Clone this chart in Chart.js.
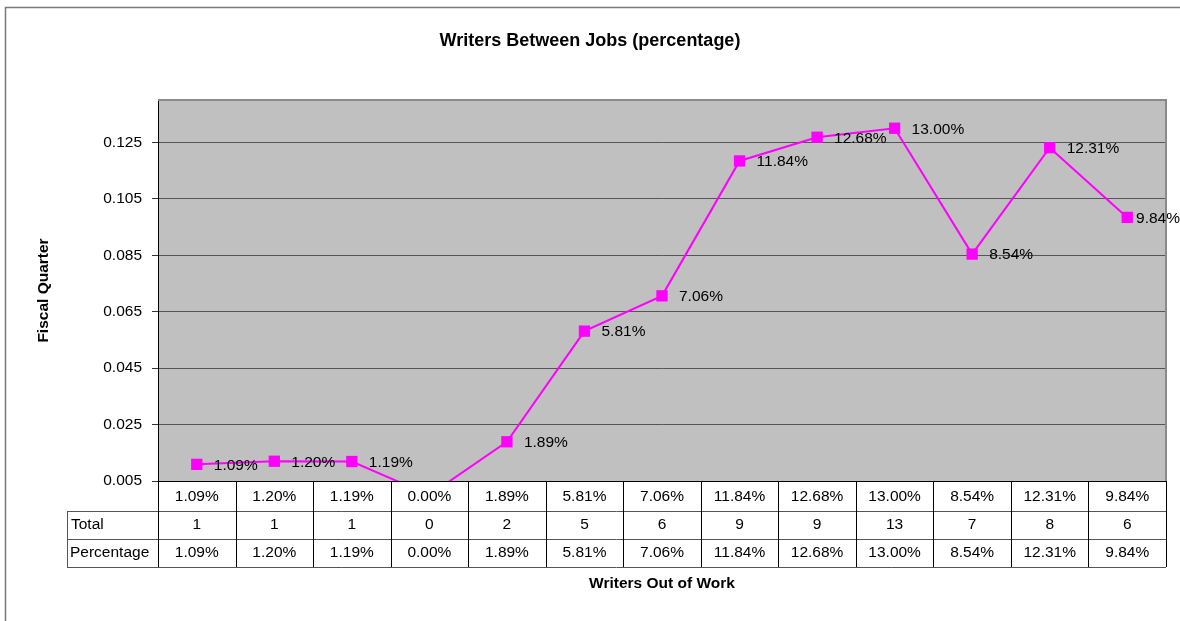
<!DOCTYPE html>
<html>
<head>
<meta charset="utf-8">
<script src="https://cdn.jsdelivr.net/npm/chart.js@4.4.1/dist/chart.umd.min.js"></script>
<style>
  html, body { margin: 0; padding: 0; background: #fff; }
  #wrap { width: 1180px; height: 621px; position: relative; }
</style>
</head>
<body>
<div id="wrap"><canvas id="chart"></canvas></div>
<script>
const FONT = '"Liberation Sans", Arial, sans-serif';

const categories = ['1.09%', '1.20%', '1.19%', '0.00%', '1.89%', '5.81%', '7.06%',
  '11.84%', '12.68%', '13.00%', '8.54%', '12.31%', '9.84%'];
const percentages = [0.0109, 0.0120, 0.0119, 0.0000, 0.0189, 0.0581, 0.0706,
  0.1184, 0.1268, 0.1300, 0.0854, 0.1231, 0.0984];
const totals = [1, 1, 1, 0, 2, 5, 6, 9, 9, 13, 7, 8, 6];
const yTicks = [0.005, 0.025, 0.045, 0.065, 0.085, 0.105, 0.125];
const yMin = 0.005;
const yMax = 0.14;

function pct(v) {
  return (v * 100).toFixed(2) + '%';
}

// grey frame round the whole chart (right/bottom run off the page)
const framePlugin = {
  id: 'frame',
  beforeDraw(chart) {
    const ctx = chart.ctx;
    ctx.save();
    ctx.fillStyle = '#fff';
    ctx.fillRect(0, 0, chart.width, chart.height);
    ctx.strokeStyle = '#7a7a7a';
    ctx.lineWidth = 1.5;
    ctx.strokeRect(5.5, 7.5, chart.width + 20, chart.height + 20);
    const a = chart.chartArea;
    ctx.fillStyle = '#c0c0c0';
    ctx.fillRect(a.left, a.top, a.right - a.left, a.bottom - a.top);
    ctx.restore();
  },
  afterDatasetsDraw(chart) {
    const ctx = chart.ctx;
    const a = chart.chartArea;
    ctx.save();
    ctx.strokeStyle = '#8a8a8a';
    ctx.lineWidth = 2;
    ctx.beginPath();
    ctx.moveTo(a.left, a.top);
    ctx.lineTo(a.right, a.top);
    ctx.lineTo(a.right, a.bottom);
    ctx.stroke();
    ctx.restore();
  }
};

// value labels to the right of each marker
const labelPlugin = {
  id: 'valueLabels',
  afterDatasetsDraw(chart) {
    const ctx = chart.ctx;
    const meta = chart.getDatasetMeta(0);
    ctx.save();
    ctx.font = '15.5px ' + FONT;
    ctx.fillStyle = '#000';
    ctx.textBaseline = 'middle';
    ctx.textAlign = 'left';
    meta.data.forEach((pt, i) => {
      const v = percentages[i];
      if (v < yMin || v > yMax) return;
      const txt = pct(v);
      const w = ctx.measureText(txt).width;
      let x = pt.x + 17;
      if (x + w > chart.width) x = chart.width - w;
      ctx.fillText(txt, x, pt.y + 1);
    });
    ctx.restore();
  }
};

// data table under the plot
const tablePlugin = {
  id: 'dataTable',
  afterDraw(chart) {
    const ctx = chart.ctx;
    const a = chart.chartArea;
    const xs = chart.scales.x;
    const colW = xs.getPixelForValue(1) - xs.getPixelForValue(0);
    const headLeft = 67;
    const r0 = a.bottom, r1 = a.bottom + 30, r2 = a.bottom + 58, r3 = a.bottom + 86;

    ctx.save();
    ctx.lineWidth = 1;
    ctx.strokeStyle = '#555';
    ctx.beginPath();
    [r1, r2, r3].forEach(y => {
      ctx.moveTo(headLeft, Math.round(y) + 0.5);
      ctx.lineTo(a.right, Math.round(y) + 0.5);
    });
    ctx.moveTo(headLeft + 0.5, r1);
    ctx.lineTo(headLeft + 0.5, r3);
    ctx.stroke();

    ctx.strokeStyle = '#000';
    ctx.beginPath();
    for (let i = 0; i <= categories.length; i++) {
      const x = Math.round(a.left + i * colW) + 0.5;
      ctx.moveTo(x, r0);
      ctx.lineTo(x, r3);
    }
    ctx.moveTo(a.left, Math.round(r0) + 0.5);
    ctx.lineTo(a.right, Math.round(r0) + 0.5);
    ctx.stroke();

    ctx.font = '15.5px ' + FONT;
    ctx.fillStyle = '#000';
    ctx.textBaseline = 'middle';
    ctx.textAlign = 'left';
    ctx.fillText('Total', headLeft + 4, (r1 + r2) / 2);
    ctx.fillText('Percentage', headLeft + 3, (r2 + r3) / 2);

    ctx.textAlign = 'center';
    categories.forEach((c, i) => {
      const cx = xs.getPixelForValue(i);
      ctx.fillText(c, cx, (r0 + r1) / 2 + 1);
      ctx.fillText(String(totals[i]), cx, (r1 + r2) / 2);
      ctx.fillText(pct(percentages[i]), cx, (r2 + r3) / 2);
    });
    ctx.restore();
  }
};

new Chart(document.getElementById('chart'), {
  type: 'line',
  data: {
    labels: categories,
    datasets: [{
      label: 'Percentage',
      data: percentages,
      borderColor: '#ff00ff',
      backgroundColor: '#ff00ff',
      borderWidth: 2,
      pointStyle: 'rect',
      pointRadius: 8,
      pointBorderWidth: 0,
      pointBackgroundColor: '#ff00ff',
      tension: 0,
      clip: 0
    }]
  },
  options: {
    responsive: true,
    maintainAspectRatio: false,
    animation: false,
    events: [],
    layout: { padding: 0 },
    plugins: {
      legend: { display: false },
      tooltip: { enabled: false },
      title: {
        display: true,
        text: 'Writers Between Jobs (percentage)',
        color: '#000',
        font: { family: FONT, size: 18, weight: 'bold' },
        padding: { top: 30, bottom: 48.4 }
      }
    },
    scales: {
      x: {
        type: 'category',
        offset: true,
        grid: { display: false },
        border: { display: false },
        ticks: { display: false },
        title: {
          display: true,
          text: 'Writers Out of Work',
          color: '#000',
          font: { family: FONT, size: 15.5, weight: 'bold' },
          padding: { top: 0, bottom: 28 }
        },
        afterFit(scale) { scale.height = 140; }
      },
      y: {
        min: yMin,
        max: yMax,
        afterBuildTicks(scale) {
          scale.ticks = yTicks.map(v => ({ value: v }));
        },
        afterFit(scale) { scale.width = 158; },
        grid: {
          color: '#555',
          lineWidth: 1,
          tickLength: 6,
          tickColor: '#333'
        },
        border: { display: true, color: '#000', width: 1 },
        ticks: {
          color: '#000',
          padding: 10,
          font: { family: FONT, size: 15.5 },
          callback: v => v.toFixed(3)
        },
        title: {
          display: true,
          text: 'Fiscal Quarter',
          color: '#000',
          font: { family: FONT, size: 15.5, weight: 'bold' },
          padding: { top: 34, bottom: 0 }
        }
      },
      // empty strip on the right so the plot ends where the reference does
      yRight: {
        position: 'right',
        min: yMin,
        max: yMax,
        grid: { display: false },
        border: { display: false },
        ticks: { display: false },
        afterFit(scale) { scale.width = 14; }
      }
    }
  },
  plugins: [framePlugin, labelPlugin, tablePlugin]
});
</script>
</body>
</html>
